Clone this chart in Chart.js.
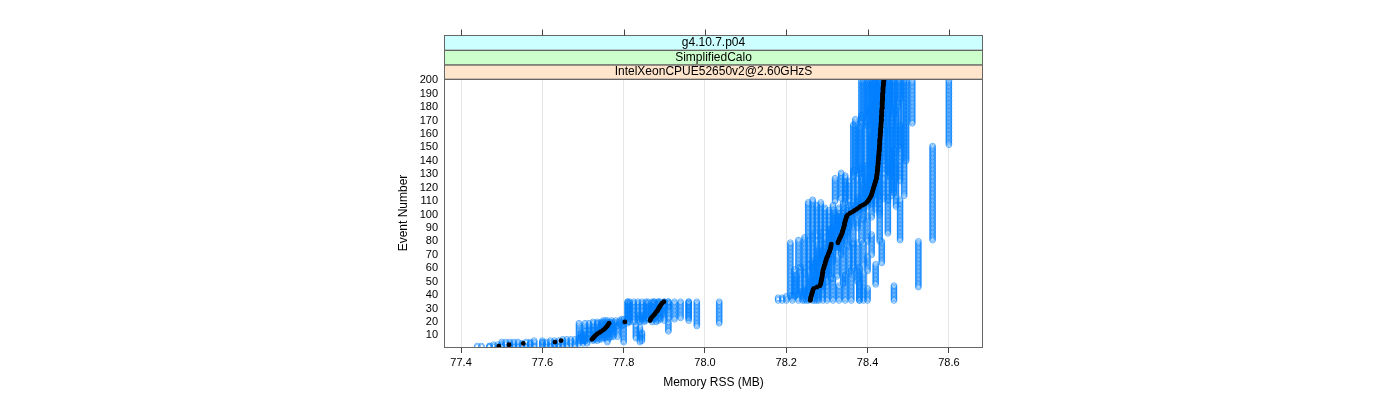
<!DOCTYPE html>
<html><head><meta charset="utf-8">
<script src="https://cdn.jsdelivr.net/npm/chart.js@4.4.0/dist/chart.umd.min.js"></script>
<style>html,body{margin:0;padding:0;background:#fff;}canvas{display:block;}</style>
</head><body>
<canvas id="c" width="1400" height="400"></canvas>
<script>
// ---- text / ticks ----
const stripLabels = ["IntelXeonCPUE52650v2@2.60GHzS", "SimplifiedCalo", "g4.10.7.p04"];
const stripColors = ["#FFE5CC", "#CCFFCC", "#CCFFFF"];
const xTicks = [77.4, 77.6, 77.8, 78.0, 78.2, 78.4, 78.6];
const yTicks = [10,20,30,40,50,60,70,80,90,100,110,120,130,140,150,160,170,180,190,200];
const xTitle = "Memory RSS (MB)";
const yTitle = "Event Number";
const lastEvent = 200;

// ---- median memory per event (events 2..200) ----
const medianStartEvent = 2;
const medianRSS = [
 77.493,77.518,77.553,77.631,77.646,
 77.722,77.725,77.728,77.731,77.735,77.740,77.745,77.750,77.754,77.757,77.760,77.762,77.764,
 77.803,
 77.865,77.866,77.868,77.871,77.874,77.877,77.879,77.882,77.884,77.886,77.888,77.890,77.892,77.895,77.899,
 78.259,78.260,78.260,78.261,78.262,78.263,78.264,78.265,78.266,78.268,
 78.276,78.283,78.284,78.285,78.286,78.286,78.287,78.288,78.288,78.289,
 78.289,78.290,78.290,78.291,78.292,78.293,78.294,78.295,78.296,78.297,
 78.298,78.299,78.300,78.302,78.303,78.304,78.306,78.307,78.308,78.309,
 78.310,78.310,78.311,78.327,78.328,78.330,78.331,78.333,78.334,78.336,
 78.337,78.338,78.339,78.340,78.341,78.342,78.343,78.343,78.344,78.345,
 78.346,78.347,78.348,78.349,78.352,78.357,78.363,78.368,78.373,78.378,
 78.382,78.388,78.394,78.398,78.401,78.403,78.405,78.407,78.409,78.410,
 78.411,78.412,78.413,78.414,78.415,78.416,78.417,78.418,78.419,78.420,
 78.421,78.422,78.422,78.423,78.423,78.424,78.424,78.424,78.425,78.425,
 78.425,78.426,78.426,78.426,78.426,78.427,78.427,78.427,78.428,78.428,
 78.428,78.428,78.429,78.429,78.429,78.429,78.430,78.430,78.430,78.430,
 78.430,78.431,78.431,78.431,78.431,78.432,78.432,78.432,78.432,78.433,
 78.433,78.433,78.433,78.434,78.434,78.434,78.434,78.434,78.435,78.435,
 78.435,78.435,78.435,78.436,78.436,78.436,78.436,78.436,78.436,78.437,
 78.437,78.437,78.437,78.437,78.437,78.438,78.438,78.438,78.438,78.438,
 78.439,78.439,78.439,78.440,78.440
];

// ---- individual runs: [event from which the value holds, memory RSS] ----
const run01 = [[1,77.44],[3,77.50],[6,77.69],[20,77.81],[36,78.18],[39,78.21],[80,78.254],[110,78.32],[128,78.365],[168,78.385]];
const run02 = [[1,77.45],[3,77.52],[6,77.695],[13,77.705],[20,77.815],[36,78.19],[39,78.22],[60,78.23],[82,78.265],[112,78.335],[132,78.37],[172,78.39]];
const run03 = [[1,77.47],[3,77.54],[6,77.70],[12,77.715],[20,77.825],[36,78.20],[40,78.225],[56,78.245],[84,78.275],[108,78.345],[130,78.38],[166,78.40]];
const run04 = [[1,77.48],[4,77.56],[6,77.705],[14,77.725],[21,77.835],[36,78.215],[41,78.235],[62,78.255],[80,78.285],[110,78.355],[126,78.385],[175,78.405]];
const run05 = [[1,77.49],[4,77.58],[7,77.715],[12,77.735],[21,77.845],[36,78.23],[42,78.245],[58,78.265],[86,78.295],[106,78.365],[134,78.395],[170,78.41]];
const run06 = [[1,77.50],[4,77.60],[7,77.725],[15,77.745],[21,77.855],[36,78.24],[44,78.255],[64,78.275],[82,78.305],[104,78.375],[128,78.405],[180,78.415]];
const run07 = [[1,77.52],[4,77.62],[7,77.73],[13,77.75],[22,77.86],[36,78.25],[45,78.265],[66,78.285],[88,78.315],[108,78.385],[136,78.41],[168,78.42]];
const run08 = [[1,77.54],[3,77.63],[7,77.74],[16,77.755],[22,77.87],[36,78.265],[48,78.275],[68,78.295],[84,78.32],[102,78.39],[124,78.415],[176,78.425]];
const run09 = [[1,77.56],[3,77.64],[7,77.745],[14,77.76],[22,77.875],[36,78.275],[46,78.285],[70,78.305],[90,78.33],[106,78.40],[138,78.42],[172,78.43]];
const run10 = [[1,77.58],[4,77.65],[8,77.75],[16,77.765],[21,77.885],[36,78.29],[50,78.30],[72,78.315],[92,78.34],[110,78.41],[130,78.43],[182,78.44]];
const run11 = [[1,77.60],[4,77.66],[8,77.755],[15,77.77],[22,77.89],[36,78.30],[52,78.31],[74,78.325],[86,78.35],[104,78.42],[140,78.44],[170,78.45]];
const run12 = [[1,77.62],[4,77.67],[8,77.76],[17,77.775],[21,77.90],[36,78.315],[54,78.325],[70,78.335],[94,78.36],[108,78.43],[132,78.45],[178,78.455]];
const run13 = [[1,77.64],[3,77.68],[8,77.765],[16,77.78],[22,77.91],[36,78.33],[48,78.34],[76,78.35],[90,78.375],[112,78.44],[128,78.455],[166,78.46]];
const run14 = [[1,77.65],[4,77.69],[9,77.77],[18,77.79],[22,77.925],[36,78.345],[56,78.355],[78,78.365],[96,78.39],[110,78.45],[136,78.46],[174,78.465]];
const run15 = [[1,77.66],[4,77.70],[9,77.775],[17,77.795],[23,77.94],[36,78.36],[60,78.365],[80,78.385],[98,78.41],[114,78.46],[142,78.47],[180,78.475]];
const run16 = [[1,77.68],[4,77.71],[9,77.785],[18,77.80],[23,77.96],[36,78.38],[50,78.375],[80,78.40],[100,78.43],[116,78.465],[150,78.475],[186,78.48]];
const run17 = [[1,77.55],[5,77.84],[17,77.98],[36,78.465],[48,78.42],[64,78.435],[81,78.48],[112,78.345],[125,78.48],[168,78.51]];
const run18 = [[1,77.57],[5,77.76],[8,77.83],[19,78.035],[36,78.40],[46,78.525],[81,78.56],[152,78.60]];
const run19 = [[1,77.61],[6,77.845],[13,77.91],[21,77.96],[36,78.39],[58,78.40],[70,78.41],[86,78.45],[114,78.49]];
const run20 = [[1,77.63],[5,77.80],[19,77.81],[36,78.38],[62,78.39],[80,78.43],[106,78.47],[140,78.495]];
const run21 = [[1,77.50],[3,77.53],[6,77.70],[10,77.725],[15,77.745],[20,77.84],[26,77.87],[31,77.885],[36,78.255],[45,78.27],[55,78.28],[65,78.29],[75,78.31],[80,78.32],[90,78.335],[100,78.35],[104,78.37],[108,78.39],[114,78.405],[130,78.415],[160,78.425]];
const run22 = [[1,77.52],[3,77.57],[6,77.725],[10,77.74],[15,77.76],[20,77.87],[26,77.885],[31,77.90],[36,78.27],[45,78.28],[55,78.295],[65,78.305],[75,78.32],[80,78.335],[90,78.345],[100,78.36],[104,78.38],[108,78.40],[114,78.415],[130,78.43],[160,78.44]];
const run23 = [[1,77.53],[3,77.60],[6,77.735],[10,77.75],[15,77.77],[20,77.88],[26,77.895],[31,77.91],[36,78.28],[45,78.29],[55,78.305],[65,78.315],[75,78.33],[80,78.345],[90,78.355],[100,78.37],[104,78.39],[108,78.41],[114,78.425],[130,78.44],[160,78.45]];
const run24 = [[1,77.47],[3,77.51],[6,77.705],[10,77.715],[15,77.735],[20,77.85],[26,77.86],[31,77.875],[36,78.245],[45,78.26],[55,78.27],[65,78.28],[75,78.295],[80,78.31],[90,78.325],[100,78.34],[104,78.355],[108,78.375],[114,78.395],[130,78.41],[160,78.42]];
const runs = [run01,run02,run03,run04,run05,run06,run07,run08,run09,run10,run11,run12,run13,run14,run15,run16,run17,run18,run19,run20,run21,run22,run23,run24];

// ---- build datasets ----
function expandRun(steps){
  const pts = []; let k = 0;
  for (let e = steps[0][0]; e <= lastEvent; e++){
    while (k + 1 < steps.length && steps[k+1][0] <= e) k++;
    pts.push({x: steps[k][1], y: e});
  }
  return pts;
}
const datasets = [];
datasets.push({
  label: 'median', data: medianRSS.map((v,i)=>({x:v, y:medianStartEvent+i})),
  pointRadius: 2.4, pointBackgroundColor: '#000', pointBorderColor: '#000', pointBorderWidth: 0,
  showLine: false, order: 0, clip: 0
});
runs.forEach((r,i)=>datasets.push({
  label: 'run'+(i+1), data: expandRun(r),
  pointRadius: 2.9, pointBorderWidth: 0.6, pointBorderColor: '#0080FF', pointBackgroundColor: 'rgba(0,0,0,0)',
  showLine: false, order: 1, clip: 0
}));

const panelPlugin = {
  id: 'panel',
  afterDatasetsDraw(chart){
    const {ctx, chartArea: a} = chart;
    const xs = chart.scales.x;
    ctx.save();
    ctx.strokeStyle = '#666'; ctx.lineWidth = 1;
    ctx.strokeRect(a.left+0.5, a.top+0.5, a.right-a.left-1, a.bottom-a.top);
    const h = 14.67;
    ctx.font = '12px "Liberation Sans", Arial, sans-serif';
    ctx.textAlign = 'center'; ctx.textBaseline = 'middle';
    for (let i = 0; i < stripLabels.length; i++){
      const y0 = a.top - (i+1)*h;
      ctx.fillStyle = stripColors[i];
      ctx.fillRect(a.left, y0, a.right-a.left, h);
      ctx.strokeStyle = '#666';
      ctx.strokeRect(a.left+0.5, Math.round(y0)+0.5, a.right-a.left-1, h);
      ctx.fillStyle = '#000';
      ctx.fillText(stripLabels[i], (a.left+a.right)/2, y0 + h/2 + 0.5);
    }
    const topY = Math.round(a.top - 3*h) + 0.5;
    ctx.strokeStyle = '#444';
    xTicks.forEach(v=>{
      const px = Math.round(xs.getPixelForValue(v)) + 0.5;
      ctx.beginPath(); ctx.moveTo(px, topY); ctx.lineTo(px, topY-6); ctx.stroke();
    });
    ctx.restore();
  }
};

new Chart(document.getElementById('c'), {
  type: 'scatter',
  data: { datasets },
  options: {
    responsive: false, animation: false, devicePixelRatio: 1,
    layout: { padding: { left: 396, right: 417, top: 79, bottom: 0 } },
    plugins: { legend: {display:false}, tooltip: {enabled:false} },
    scales: {
      x: {
        type: 'linear', min: 77.358, max: 78.684,
        afterBuildTicks: s => { s.ticks = xTicks.map(v=>({value:v})); },
        afterFit: s => { s.height = 53; },
        grid: { color: '#E6E6E6', tickColor: '#444', tickLength: 6, drawOnChartArea: true },
        border: { display: false },
        ticks: { autoSkip: false, color: '#000', font: { family: '"Liberation Sans", Arial, sans-serif', size: 11 }, padding: 3, maxRotation: 0,
                 callback: v => v.toFixed(1) },
        title: { display: true, text: xTitle, color: '#000', font: { family: '"Liberation Sans", Arial, sans-serif', size: 12 }, padding: {top:0, bottom: 10} }
      },
      y: {
        type: 'linear', min: 1.3, max: 201,
        afterBuildTicks: s => { s.ticks = yTicks.map(v=>({value:v})); },
        afterFit: s => { s.width = 48; },
        grid: { display: false, drawTicks: false },
        border: { display: false },
        ticks: { autoSkip: false, color: '#000', font: { family: '"Liberation Sans", Arial, sans-serif', size: 11 }, padding: 6 },
        title: { display: true, text: yTitle, color: '#000', font: { family: '"Liberation Sans", Arial, sans-serif', size: 12 }, padding: {top:0, bottom:0} }
      }
    }
  },
  plugins: [panelPlugin]
});
</script>
</body></html>
